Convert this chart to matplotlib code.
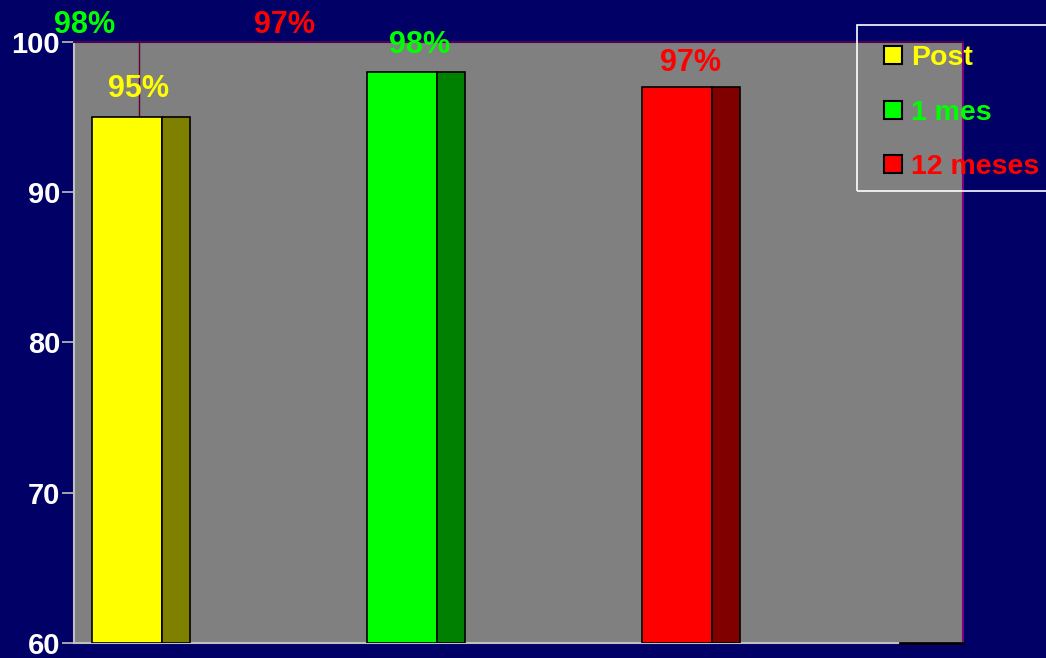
import matplotlib.pyplot as plt
from matplotlib.patches import Rectangle

plt.rcParams['font.family'] = ['Liberation Sans', 'DejaVu Sans']
plt.rcParams['font.weight'] = 'bold'

# datos
categorias = ['Post', '1 mes', '12 meses']
valores = [95, 98, 97]
etiquetas = ['95%', '98%', '97%']
colores = ['#ffff00', '#00ff00', '#ff0000']
colores_lado = ['#808000', '#008000', '#800000']
yticks = [60, 70, 80, 90, 100]

# etiquetas sueltas arriba del grafico
extra_txt = ['98%', '97%']
extra_col = ['#00ff00', '#ff0000']

# ajustes de posicion (en unidades de datos)
lab_dx = [0.04, 0.065, 0.05]
lab_dy = [1.33, 1.26, 1.06]
extra_x = [-0.156, 0.571]

fondo = '#000066'
W, H = 1046, 658
fig = plt.figure(figsize=(W/100, H/100), dpi=100, facecolor=fondo)
ax = fig.add_axes([74/W, 15/H, 889/W, 601/H])
ax.set_facecolor('#808080')

ancho = 0.255
lado = 0.102
x = list(range(len(valores)))
for i in x:
    ax.bar(i, valores[i] - 60, bottom=60, width=ancho, color=colores[i],
           edgecolor='black', linewidth=1.2, zorder=3)
    ax.bar(i + ancho/2 + lado/2, valores[i] - 60, bottom=60, width=lado,
           color=colores_lado[i], edgecolor='black', linewidth=1.2, zorder=3)
    ax.text(i + lab_dx[i], valores[i] + lab_dy[i], etiquetas[i], color=colores[i],
            fontsize=22, fontweight='bold', ha='center', va='baseline', zorder=4)

for xx, t, c in zip(extra_x, extra_txt, extra_col):
    ax.text(xx, 100.6, t, color=c, fontsize=22, fontweight='bold',
            ha='center', va='baseline', clip_on=False)

# linea vertical fina
ax.plot([0.044, 0.044], [valores[0], 100], color='#660033', linewidth=1, zorder=2)

ax.set_xlim(-0.193, 3.04)
ax.set_ylim(60, 100)
ax.set_xticks([])
ax.set_yticks(yticks)
ax.tick_params(axis='y', colors='#c0c0c0', length=9, width=1.2, labelcolor='white',
               labelsize=21, pad=1)
for lab in ax.get_yticklabels():
    lab.set_fontweight('bold')

ax.spines['left'].set_color('#c0c0c0')
ax.spines['bottom'].set_color('#c0c0c0')
ax.spines['top'].set_color('#500050')
ax.spines['right'].set_color('#800080')
for s in ax.spines.values():
    s.set_linewidth(1.5)
ax.plot([2.81, 3.04], [60, 60], color='black', linewidth=2, clip_on=False, zorder=5)

# leyenda (hecha a mano)
fig.patches.append(Rectangle((857/W, (H-191)/H), 200/W, 166/H,
                             transform=fig.transFigure, facecolor='none',
                             edgecolor='white', linewidth=1.2))
cuadro_y = [55, 109.5, 163.5]
texto_y = [65, 120, 174]
for cat, col, cy, ty in zip(categorias, colores, cuadro_y, texto_y):
    fig.patches.append(Rectangle((884/W, (H-cy-9)/H), 18/W, 18/H,
                                 transform=fig.transFigure, facecolor=col,
                                 edgecolor='black', linewidth=1.5))
    fig.text(911/W, (H-ty)/H, cat, color=col, fontsize=20.5, fontweight='bold',
             ha='left', va='baseline')

fig.savefig('out.png', dpi=100, facecolor=fondo)
